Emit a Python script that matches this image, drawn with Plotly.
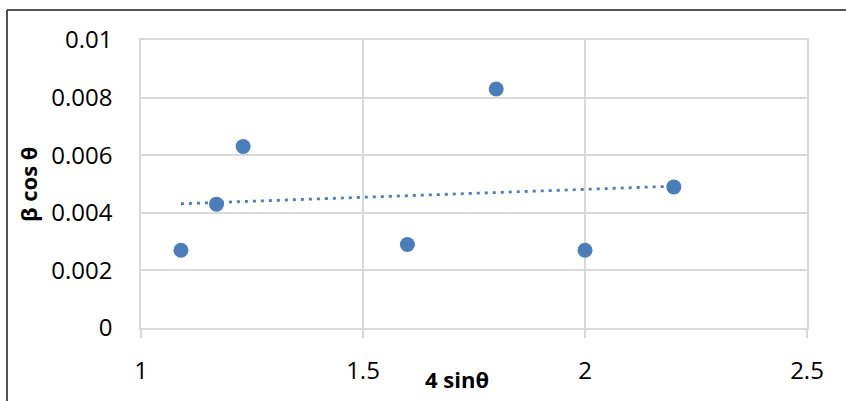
import numpy as np
import plotly.graph_objects as go

x_vals = [1.09, 1.17, 1.23, 1.60, 1.80, 2.00, 2.20]
y_vals = [0.0027, 0.0043, 0.0063, 0.0029, 0.0083, 0.0027, 0.0049]

x_ticks = [1, 1.5, 2, 2.5]
x_tick_labels = ["1", "1.5", "2", "2.5"]
y_ticks = [0, 0.002, 0.004, 0.006, 0.008, 0.01]
y_tick_labels = ["0", "0.002", "0.004", "0.006", "0.008", "0.01"]

x_title = "4 sinθ"
y_title = "β cos θ"

color = "#4a7ebb"
grid = "#d9d9d9"
font_family = "Open Sans, Noto Sans, sans-serif"

slope, intercept = np.polyfit(x_vals, y_vals, 1)
tx = np.array([min(x_vals), max(x_vals)])
ty = slope * tx + intercept

fig = go.Figure()
fig.add_trace(go.Scatter(x=tx, y=ty, mode="lines",
                         line=dict(color=color, width=2.8, dash="3px,5px"),
                         hoverinfo="skip", showlegend=False))
fig.add_trace(go.Scatter(x=x_vals, y=y_vals, mode="markers",
                         marker=dict(color=color, size=15),
                         showlegend=False))

W, H = 846, 401
L, R, T, B = 141, 39, 40, 73
pw, ph = W - L - R, H - T - B

def px_x(p):
    return (p - L) / pw

def px_y(p):
    return (H - B - p) / ph

fig.update_layout(
    width=W, height=H,
    margin=dict(l=L, r=R, t=T, b=B),
    paper_bgcolor="white", plot_bgcolor="white",
    font=dict(family=font_family, size=22, color="#000000"),
    xaxis=dict(range=[1, 2.5], tickvals=x_ticks, ticktext=x_tick_labels,
               showgrid=True, gridcolor=grid, gridwidth=1.5,
               zeroline=False, showline=True, linecolor=grid, linewidth=1.5,
               mirror=True,
               ticks="outside", ticklen=8, tickcolor=grid, tickwidth=1.5,
               ticklabelstandoff=12,
               tickfont=dict(size=24, family=font_family, color="#000")),
    yaxis=dict(range=[0, 0.01], tickvals=y_ticks, ticktext=y_tick_labels,
               showgrid=True, gridcolor=grid, gridwidth=1.5,
               zeroline=False, showline=True, linecolor=grid, linewidth=1.5,
               mirror=True, ticks="",
               ticklabelstandoff=22,
               tickfont=dict(size=24, family=font_family, color="#000")),
    annotations=[
        dict(text=f"<b>{x_title}</b>", xref="paper", yref="paper",
             x=px_x(457), y=px_y(379), xanchor="center", yanchor="middle",
             showarrow=False, font=dict(size=22, family=font_family)),
        dict(text=f"<b>{y_title}</b>", xref="paper", yref="paper",
             x=px_x(28), y=px_y(185), xanchor="center", yanchor="middle",
             textangle=-90, showarrow=False,
             font=dict(size=22, family=font_family)),
    ],
    shapes=[
        dict(type="line", xref="paper", yref="paper",
             x0=px_x(7), x1=px_x(846), y0=px_y(10), y1=px_y(10),
             line=dict(color="#1a1a1a", width=1.5)),
        dict(type="line", xref="paper", yref="paper",
             x0=px_x(7), x1=px_x(7), y0=px_y(10), y1=px_y(401),
             line=dict(color="#1a1a1a", width=1.5)),
    ],
)

fig.write_html("out.html")
